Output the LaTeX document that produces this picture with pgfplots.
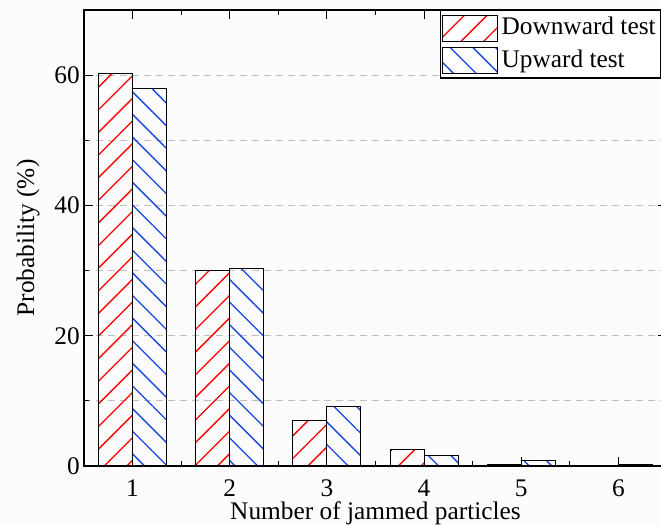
\documentclass[border=0pt]{standalone}
\usepackage{fontspec}
\setmainfont{Liberation Serif}
\usepackage{pgfplots}
\pgfplotsset{compat=1.18}
\usetikzlibrary{patterns.meta}
\definecolor{myred}{RGB}{255,0,0}
\definecolor{myblue}{RGB}{25,70,225}
\begin{document}
\fontsize{19}{23}\selectfont
\begin{tikzpicture}
\fill[white!99!black] (-63pt,-44.25pt) rectangle (432.75pt,349.5pt);
\begin{axis}[
  at={(0,0)}, anchor=south west,
  scale only axis, width=437.25pt, height=342pt,
  xmin=0.5, xmax=6.5, ymin=0, ymax=70,
  xtick={1,2,3,4,5,6},
  minor xtick={1.5,2.5,3.5,4.5,5.5},
  ytick={0,20,40,60},
  minor ytick={10,30,50,70},
  ymajorgrids, yminorgrids,
  major grid style={gray!50, dashed, line width=0.6pt, dash pattern=on 5pt off 4pt},
  minor grid style={gray!50, dashed, line width=0.6pt, dash pattern=on 5pt off 4pt},
  tick align=inside,
  major tick length=7pt, minor tick length=3.75pt,
  every tick/.style={black, line width=0.8pt},
  axis line style={line width=1pt},
  /pgf/number format/assume math mode=true,
  xticklabel style={anchor=base, yshift=-22.5pt},
  yticklabel style={anchor=east, inner sep=0pt, xshift=-3pt},
  xlabel={Number of jammed particles},
  ylabel={Probability (\%)},
  xlabel style={at={(axis description cs:0.5,0)}, anchor=base, yshift=-39.75pt},
  ylabel style={at={(axis description cs:-0.096,0.5)}, anchor=center},
  legend style={at={(0.6106,1)}, anchor=north west, draw=black, line width=0.8pt,
    fill=white, inner xsep=1pt, inner ysep=3pt, row sep=4pt,
    nodes={inner xsep=3pt, inner ysep=1.5pt}},
  legend cell align=left,
  legend image code/.code={\draw[#1, draw=black, line width=0.8pt] (0pt,-9.75pt) rectangle (41pt,9.75pt);},
]
\addplot[ybar, bar width=0.35, bar shift=-0.175, draw=black, line width=0.8pt,
  pattern={Lines[angle=45, distance=12pt, line width=1pt]}, pattern color=myred]
  coordinates {(1,60.3) (2,30.0) (3,7.0) (4,2.6) (5,0.2)};
\addlegendentry{Downward test}
\addplot[ybar, bar width=0.35, bar shift=0.175, draw=black, line width=0.8pt,
  pattern={Lines[angle=-45, distance=12pt, line width=1pt]}, pattern color=myblue]
  coordinates {(1,58.0) (2,30.3) (3,9.2) (4,1.6) (5,0.8) (6,0.2)};
\addlegendentry{Upward test}
\end{axis}
\pgfresetboundingbox
\path (-63pt,-44.25pt) rectangle (432.75pt,349.5pt);
\end{tikzpicture}
\end{document}
